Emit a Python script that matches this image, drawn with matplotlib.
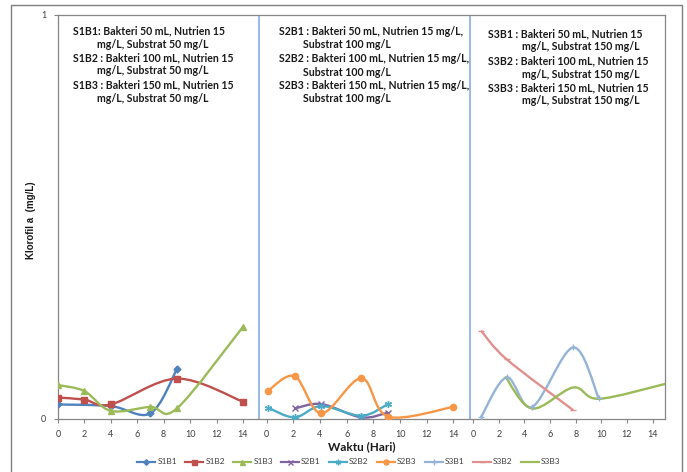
""" Klorofil a vs waktu for three substrate levels (S1, S2, S3) """

import matplotlib.pyplot as plt
from matplotlib.path import Path
from matplotlib.patches import PathPatch, Rectangle
from matplotlib.lines import Line2D

# ---- data (days, mg/L) ----
s1b1_x = [0, 4, 7, 9]
s1b1_y = [0.036, 0.032, 0.014, 0.123]
s1b2_x = [0, 2, 4, 9, 14]
s1b2_y = [0.053, 0.048, 0.036, 0.100, 0.043]
s1b3_x = [0, 2, 4, 7, 9, 14]
s1b3_y = [0.084, 0.069, 0.020, 0.030, 0.026, 0.228]

s2b1_x = [2.1, 4.1, 7.1, 9.1]
s2b1_y = [0.026, 0.037, 0.004, 0.016]
s2b2_x = [0.1, 2.1, 4.1, 7.1, 9.1]
s2b2_y = [0.028, 0.004, 0.032, 0.008, 0.037]
s2b3_x = [0.1, 2.1, 4.1, 7.1, 9.1, 14]
s2b3_y = [0.070, 0.106, 0.014, 0.101, 0.006, 0.030]

s3b1_x = [0.6, 2.6, 4.6, 7.8, 9.8]
s3b1_y = [0.004, 0.103, 0.030, 0.177, 0.051]
s3b2_x = [0.6, 2.6, 7.8]
s3b2_y = [0.219, 0.148, 0.022]
s3b3_x = [2.5, 4.6, 7.8, 9.8, 15.0]
s3b3_y = [0.105, 0.026, 0.078, 0.050, 0.087]

day_ticks = [0, 2, 4, 6, 8, 10, 12, 14]

notes = [
    [("S1B1: Bakteri 50 mL, Nutrien 15", "mg/L, Substrat 50 mg/L"),
     ("S1B2 : Bakteri 100 mL, Nutrien 15", "mg/L, Substrat 50 mg/L"),
     ("S1B3 : Bakteri 150 mL, Nutrien 15", "mg/L, Substrat 50 mg/L")],
    [("S2B1 : Bakteri 50 mL, Nutrien 15 mg/L,", "Substrat 100 mg/L"),
     ("S2B2 : Bakteri 100 mL, Nutrien 15 mg/L,", "Substrat 100 mg/L"),
     ("S2B3 : Bakteri 150 mL, Nutrien 15 mg/L,", "Substrat 100 mg/L")],
    [("S3B1 : Bakteri 50 mL, Nutrien 15", "mg/L, Substrat 150 mg/L"),
     ("S3B2 : Bakteri 100 mL, Nutrien 15", "mg/L, Substrat 150 mg/L"),
     ("S3B3 : Bakteri 150 mL, Nutrien 15", "mg/L, Substrat 150 mg/L")],
]

# each panel sits at its own place on one shared x axis
PANEL_OFFSET = [0.04, 15.84, 31.48]
PANEL_SCALE = [1.0, 1.01, 0.97]

series = [
    # label, panel, x, y, colour, marker, marker size
    ("S1B1", 0, s1b1_x, s1b1_y, "#4F81BD", "D", 3.5),
    ("S1B2", 0, s1b2_x, s1b2_y, "#C0504D", "s", 4.5),
    ("S1B3", 0, s1b3_x, s1b3_y, "#9BBB59", "^", 4.5),
    ("S2B1", 1, s2b1_x, s2b1_y, "#8064A2", "x", 4.5),
    ("S2B2", 1, s2b2_x, s2b2_y, "#4BACC6", (6, 2, 0), 5),
    ("S2B3", 1, s2b3_x, s2b3_y, "#F79646", "o", 4.5),
    ("S3B1", 2, s3b1_x, s3b1_y, "#95B3D7", "+", 5),
    ("S3B2", 2, s3b2_x, s3b2_y, "#E0908E", "_", 5),
    ("S3B3", 2, s3b3_x, s3b3_y, "#9BBB59", None, 0),
]

W, H = 687, 472


def to_global(panel, xs):
    return [PANEL_OFFSET[panel] + PANEL_SCALE[panel] * x for x in xs]


def smooth_path(xs, ys):
    """Bezier path through the points, like a spreadsheet 'smoothed line'."""
    pts = list(zip(xs, ys))
    n = len(pts)
    verts = [pts[0]]
    codes = [Path.MOVETO]
    for i in range(n - 1):
        p0 = pts[i - 1] if i > 0 else pts[i]
        p1 = pts[i]
        p2 = pts[i + 1]
        p3 = pts[i + 2] if i + 2 < n else pts[i + 1]
        c1 = (p1[0] + (p2[0] - p0[0]) / 6, p1[1] + (p2[1] - p0[1]) / 6)
        c2 = (p2[0] - (p3[0] - p1[0]) / 6, p2[1] - (p3[1] - p1[1]) / 6)
        verts += [c1, c2, p2]
        codes += [Path.CURVE4] * 3
    return Path(verts, codes)


def fx(px):
    return px / W


def fy(py):
    return 1 - py / H


fig = plt.figure(figsize=(W / 100, H / 100), dpi=100)
ax = fig.add_axes([fx(57.5), fy(419), fx(665) - fx(57.5), fy(15) - fy(419)])

axis_grey = "#868686"
text_col = "#404040"

handles = []
for label, panel, xs, ys, col, mk, ms in series:
    gx = to_global(panel, xs)
    ax.add_patch(PathPatch(smooth_path(gx, ys), facecolor="none",
                           edgecolor=col, lw=1.7, zorder=3))
    if mk is not None:
        ax.plot(gx, ys, ls="none", marker=mk, ms=ms, color=col,
                mec=col, mew=1.0, zorder=4)
    handles.append(Line2D([], [], color=col, lw=1.6, marker=mk, ms=ms * 0.8,
                          mew=1.0, label=label))

# blue separators between the three substrate groups
for sep in [15.26, 31.23]:
    ax.axvline(sep, color="#9DBBE0", lw=1.5, zorder=2)

ax.set_xlim(0, 46)
ax.set_ylim(0, 1)

ticks, tick_labels = [], []
for p in range(3):
    ticks += to_global(p, day_ticks)
    tick_labels += [str(d) for d in day_ticks]
ax.set_xticks(ticks)
ax.set_xticklabels(tick_labels)
ax.set_yticks([0, 1])
ax.tick_params(axis="both", direction="out", length=3, width=0.8,
               color=axis_grey, labelcolor=text_col, labelsize=6.5, pad=5)
for lbl in ax.get_xticklabels() + ax.get_yticklabels():
    lbl.set_family("Lato")

for side in ["left", "bottom", "top", "right"]:
    ax.spines[side].set_color(axis_grey)
    ax.spines[side].set_linewidth(0.9)

# condition notes above each group
note_pos = [(73, 97, 30.5), (279, 303, 31.5), (488, 522, 33.5)]
for (x_first, x_next, y0), lines in zip(note_pos, notes):
    y = y0
    for first, second in lines:
        fig.text(fx(x_first), fy(y), first, fontsize=7.6, family="Lato",
                 weight="bold", color="#1a1a1a", va="center")
        fig.text(fx(x_next), fy(y + 13.5), second, fontsize=7.6, family="Lato",
                 weight="bold", color="#1a1a1a", va="center")
        y += 27

fig.text(fx(31), fy(220), "Klorofil a  (mg/L)", rotation=90, fontsize=7,
         weight="bold", family="Liberation Sans", color="#1a1a1a",
         ha="center", va="center")
fig.text(fx(362), fy(447), "Waktu (Hari)", fontsize=8.5, weight="bold",
         family="Lato", color="#1a1a1a", ha="center", va="center")

fig.legend(handles=handles, loc="center", bbox_to_anchor=(fx(349), fy(462)),
           ncol=9, frameon=False, handlelength=2.1, handletextpad=0.3,
           columnspacing=1.0, prop={"family": "Lato", "size": 6},
           labelcolor=text_col)

# outer chart border
fig.patches.append(Rectangle((fx(11), fy(500)), fx(682) - fx(11),
                             fy(5) - fy(500), transform=fig.transFigure,
                             fill=False, edgecolor="#7f7f7f", lw=1.0))

fig.savefig("out.png", dpi=100)
